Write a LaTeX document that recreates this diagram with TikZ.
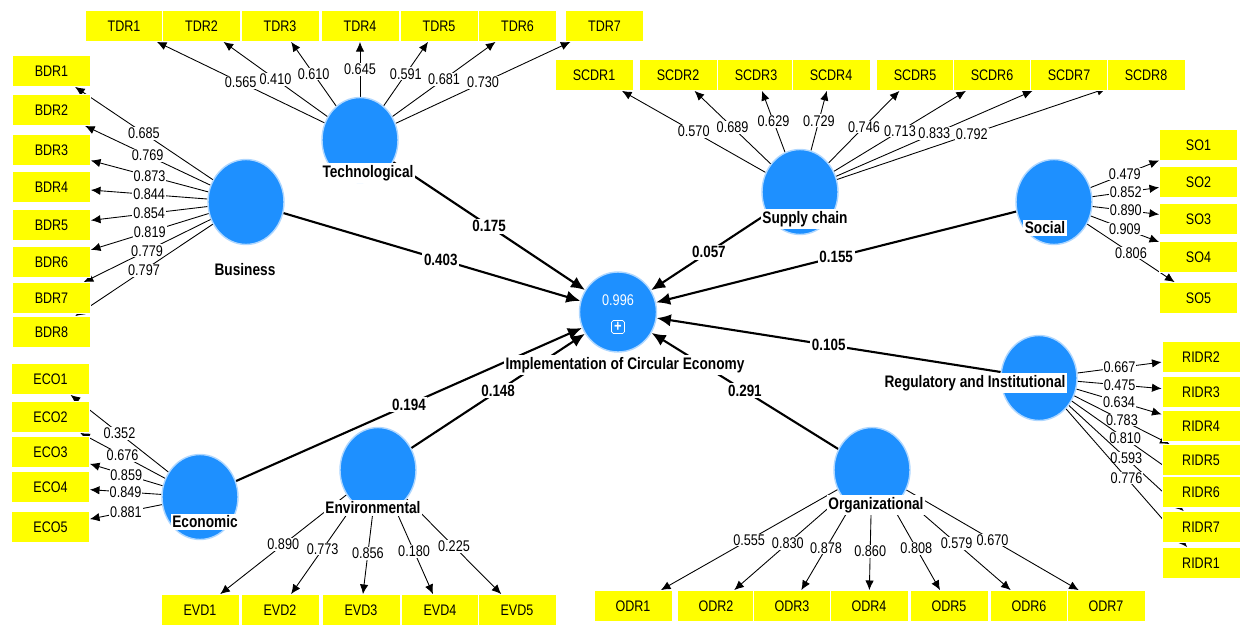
\documentclass[tikz,border=0pt]{standalone}
\usepackage{fontspec}
\setmainfont{Liberation Sans}[FakeStretch=0.82]
\usetikzlibrary{arrows.meta,shapes.geometric,backgrounds}
\definecolor{lvblue}{RGB}{30,144,255}
\definecolor{lvglow}{RGB}{175,215,255}
\definecolor{indyellow}{RGB}{255,255,0}

\begin{document}
\begin{tikzpicture}[x=0.02cm, y=-0.02cm,
    latent/.style={ellipse,fill=lvblue,draw=lvglow,line width=0.8pt,minimum width=1.52cm,minimum height=1.7cm,inner sep=0pt},
    ind/.style={rectangle,fill=indyellow,draw=white,line width=0.4pt,minimum width=1.56cm,minimum height=0.62cm,inner sep=0pt,font=\fontsize{8.7}{9}\selectfont},
    lvname/.style={fill=white,inner sep=1pt,font=\fontsize{9.5}{10}\selectfont\bfseries},
    loading/.style={-{Latex[length=5.5pt,width=4.8pt]},line width=0.5pt},
    struct/.style={-{Latex[length=8pt,width=7pt]},line width=1.2pt},
    lval/.style={fill=white,inner sep=0.5pt,font=\fontsize{8.8}{9}\selectfont},
    pval/.style={fill=white,inner sep=1pt,font=\fontsize{9.3}{10}\selectfont\bfseries}]
    \useasboundingbox (0,0) rectangle (1248,625);

    % latent variables
    \node[latent] (tech) at (360,140) {};
    \node[latent] (bus) at (246,202) {};
    \node[latent] (sc) at (800,192) {};
    \node[latent] (soc) at (1054,202) {};
    \node[latent] (reg) at (1039,378) {};
    \node[latent] (org) at (872,470) {};
    \node[latent] (env) at (378,470) {};
    \node[latent] (econ) at (200,497) {};
    \node[latent,minimum width=1.54cm,minimum height=1.6cm] (ce) at (618,312) {};
    \node[text=white,font=\fontsize{8.8}{9}\selectfont] (rsq) at (618,300) {0.996};
    \node[draw=white,rounded corners=1pt,minimum size=0.26cm,inner sep=0pt,text=white,font=\fontsize{9}{9}\selectfont\bfseries] (plusbox) at (618,327) {+};

    \node[lvname] (techlbl) at (368,173) {Technological};
    \node[lvname] (buslbl) at (245,270) {Business};
    \node[lvname] (sclbl) at (805,219) {Supply chain};
    \node[lvname] (soclbl) at (1045,228) {Social};
    \node[lvname] (reglbl) at (975,383) {Regulatory and Institutional};
    \node[lvname] (orglbl) at (876,505) {Organizational};
    \node[lvname] (envlbl) at (373,508) {Environmental};
    \node[lvname] (econlbl) at (205,522) {Economic};
    \node[lvname] (celbl) at (625,365) {Implementation of Circular Economy};

    % indicators
    \node[ind] (tdr1) at (124,26) {TDR1};
    \node[ind] (tdr2) at (201.5,26) {TDR2};
    \node[ind] (tdr3) at (280,26) {TDR3};
    \node[ind] (tdr4) at (360,26) {TDR4};
    \node[ind] (tdr5) at (439,26) {TDR5};
    \node[ind] (tdr6) at (517.5,26) {TDR6};
    \node[ind] (tdr7) at (604.5,26) {TDR7};

    \node[ind] (bdr1) at (51.5,71) {BDR1};
    \node[ind] (bdr2) at (51.5,110) {BDR2};
    \node[ind] (bdr3) at (51.5,150) {BDR3};
    \node[ind] (bdr4) at (51.5,187) {BDR4};
    \node[ind] (bdr5) at (51.5,225) {BDR5};
    \node[ind] (bdr6) at (51.5,262) {BDR6};
    \node[ind] (bdr7) at (51.5,298) {BDR7};
    \node[ind] (bdr8) at (51.5,332) {BDR8};

    \node[ind] (scdr1) at (594,75) {SCDR1};
    \node[ind] (scdr2) at (678,75) {SCDR2};
    \node[ind] (scdr3) at (756,75) {SCDR3};
    \node[ind] (scdr4) at (831,75) {SCDR4};
    \node[ind] (scdr5) at (915,75) {SCDR5};
    \node[ind] (scdr6) at (992,75) {SCDR6};
    \node[ind] (scdr7) at (1069,75) {SCDR7};
    \node[ind] (scdr8) at (1146,75) {SCDR8};

    \node[ind] (so1) at (1198.5,145) {SO1};
    \node[ind] (so2) at (1198.5,182) {SO2};
    \node[ind] (so3) at (1198.5,219) {SO3};
    \node[ind] (so4) at (1198.5,257) {SO4};
    \node[ind] (so5) at (1198.5,298) {SO5};

    \node[ind] (ridr2) at (1201,357) {RIDR2};
    \node[ind] (ridr3) at (1201,392) {RIDR3};
    \node[ind] (ridr4) at (1201,426) {RIDR4};
    \node[ind] (ridr5) at (1201,460) {RIDR5};
    \node[ind] (ridr6) at (1201,492) {RIDR6};
    \node[ind] (ridr7) at (1201,527) {RIDR7};
    \node[ind] (ridr1) at (1201,563) {RIDR1};

    \node[ind] (eco1) at (50.5,379) {ECO1};
    \node[ind] (eco2) at (50.5,417) {ECO2};
    \node[ind] (eco3) at (50.5,452) {ECO3};
    \node[ind] (eco4) at (50.5,487) {ECO4};
    \node[ind] (eco5) at (50.5,527) {ECO5};

    \node[ind] (evd1) at (200,610) {EVD1};
    \node[ind] (evd2) at (280,610) {EVD2};
    \node[ind] (evd3) at (361,610) {EVD3};
    \node[ind] (evd4) at (440,610) {EVD4};
    \node[ind] (evd5) at (517,610) {EVD5};

    \node[ind] (odr1) at (633,606) {ODR1};
    \node[ind] (odr2) at (716,606) {ODR2};
    \node[ind] (odr3) at (792,606) {ODR3};
    \node[ind] (odr4) at (869,606) {ODR4};
    \node[ind] (odr5) at (949,606) {ODR5};
    \node[ind] (odr6) at (1029,606) {ODR6};
    \node[ind] (odr7) at (1106,606) {ODR7};

    \begin{scope}[on background layer]
    % outer loadings
    \draw[loading] (tech) -- node[lval] {0.565} (tdr1);
    \draw[loading] (tech) -- node[lval] {0.410} (tdr2);
    \draw[loading] (tech) -- node[lval] {0.610} (tdr3);
    \draw[loading] (tech) -- node[lval] {0.645} (tdr4);
    \draw[loading] (tech) -- node[lval] {0.591} (tdr5);
    \draw[loading] (tech) -- node[lval] {0.681} (tdr6);
    \draw[loading] (tech) -- node[lval] {0.730} (tdr7);

    \draw[loading] (bus) -- node[lval] {0.685} (bdr1);
    \draw[loading] (bus) -- node[lval] {0.769} (bdr2);
    \draw[loading] (bus) -- node[lval] {0.873} (bdr3);
    \draw[loading] (bus) -- node[lval] {0.844} (bdr4);
    \draw[loading] (bus) -- node[lval] {0.854} (bdr5);
    \draw[loading] (bus) -- node[lval] {0.819} (bdr6);
    \draw[loading] (bus) -- node[lval] {0.779} (bdr7);
    \draw[loading] (bus) -- node[lval] {0.797} (bdr8);

    \draw[loading] (sc) -- node[lval] {0.570} (scdr1);
    \draw[loading] (sc) -- node[lval] {0.689} (scdr2);
    \draw[loading] (sc) -- node[lval] {0.629} (scdr3);
    \draw[loading] (sc) -- node[lval] {0.729} (scdr4);
    \draw[loading] (sc) -- node[lval] {0.746} (scdr5);
    \draw[loading] (sc) -- node[lval] {0.713} (scdr6);
    \draw[loading] (sc) -- node[lval] {0.833} (scdr7);
    \draw[loading] (sc) -- node[lval] {0.792} (scdr8);

    \draw[loading] (soc) -- node[lval] {0.479} (so1);
    \draw[loading] (soc) -- node[lval] {0.852} (so2);
    \draw[loading] (soc) -- node[lval] {0.890} (so3);
    \draw[loading] (soc) -- node[lval] {0.909} (so4);
    \draw[loading] (soc) -- node[lval] {0.806} (so5);

    \draw[loading] (reg) -- node[lval] {0.667} (ridr2);
    \draw[loading] (reg) -- node[lval] {0.475} (ridr3);
    \draw[loading] (reg) -- node[lval] {0.634} (ridr4);
    \draw[loading] (reg) -- node[lval] {0.783} (ridr5);
    \draw[loading] (reg) -- node[lval] {0.810} (ridr6);
    \draw[loading] (reg) -- node[lval] {0.593} (ridr7);
    \draw[loading] (reg) -- node[lval] {0.776} (ridr1);

    \draw[loading] (econ) -- node[lval] {0.352} (eco1);
    \draw[loading] (econ) -- node[lval] {0.676} (eco2);
    \draw[loading] (econ) -- node[lval] {0.859} (eco3);
    \draw[loading] (econ) -- node[lval] {0.849} (eco4);
    \draw[loading] (econ) -- node[lval] {0.881} (eco5);

    \draw[loading] (env) -- node[lval] {0.890} (evd1);
    \draw[loading] (env) -- node[lval] {0.773} (evd2);
    \draw[loading] (env) -- node[lval] {0.856} (evd3);
    \draw[loading] (env) -- node[lval] {0.180} (evd4);
    \draw[loading] (env) -- node[lval] {0.225} (evd5);

    \draw[loading] (org) -- node[lval] {0.555} (odr1);
    \draw[loading] (org) -- node[lval] {0.830} (odr2);
    \draw[loading] (org) -- node[lval] {0.878} (odr3);
    \draw[loading] (org) -- node[lval] {0.860} (odr4);
    \draw[loading] (org) -- node[lval] {0.808} (odr5);
    \draw[loading] (org) -- node[lval] {0.579} (odr6);
    \draw[loading] (org) -- node[lval] {0.670} (odr7);

    % path coefficients
    \draw[struct] (tech) -- node[pval] {0.175} (ce);
    \draw[struct] (bus) -- node[pval,pos=0.53] {0.403} (ce);
    \draw[struct] (sc) -- node[pval] {0.057} (ce);
    \draw[struct] (soc) -- node[pval] {0.155} (ce);
    \draw[struct] (reg) -- node[pval] {0.105} (ce);
    \draw[struct] (org) -- node[pval] {0.291} (ce);
    \draw[struct] (econ) -- node[pval] {0.194} (ce);
    \draw[struct] (env) -- node[pval] {0.148} (ce);
    \end{scope}
\end{tikzpicture}
\end{document}
